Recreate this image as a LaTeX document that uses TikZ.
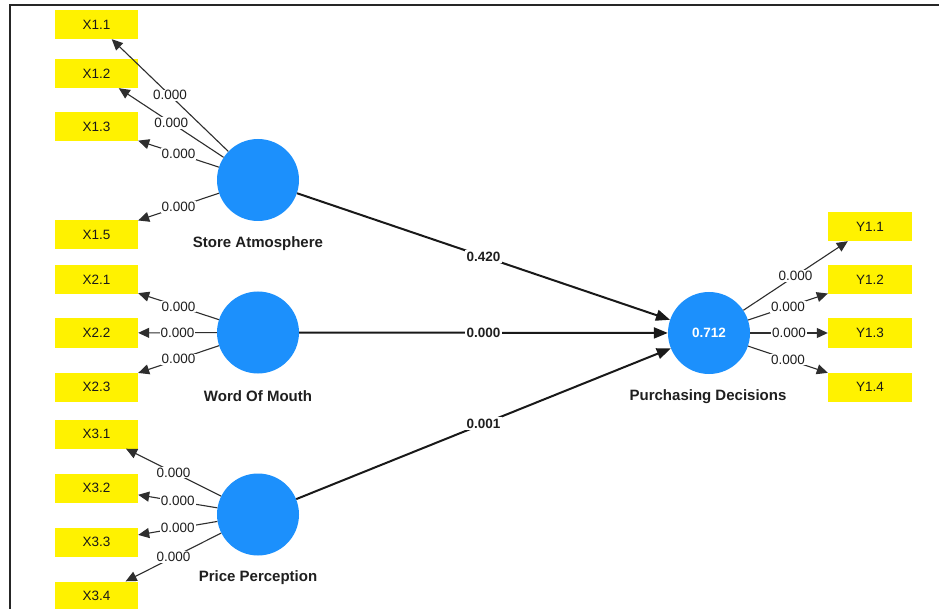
\documentclass[tikz,border=0pt]{standalone}
\usepackage{fontspec}
\setmainfont{Liberation Sans}
\usetikzlibrary{arrows.meta}
\definecolor{lvblue}{RGB}{28,144,252}
\begin{document}
\begin{tikzpicture}[x=1pt,y=-1pt,
  ind/.style={fill=yellow, minimum width=83pt, minimum height=29pt, inner sep=0pt, text=black!90, font=\fontsize{13.5}{15}\selectfont},
  lv/.style={circle, fill=lvblue, minimum size=82pt, inner sep=0pt, text=white, font=\fontsize{13.5}{15}\selectfont\bfseries},
  lvname/.style={text=black!88, font=\fontsize{15}{17}\selectfont\bfseries},
  meas/.style={draw=black!82, line width=1.1pt, -{Triangle[length=11pt,width=10pt]}},
  struct/.style={draw=black!90, line width=2pt, -{Triangle[length=14pt,width=11pt]}},
  elab/.style={fill=white, inner sep=1pt, text=black!88, font=\fontsize{13.5}{15}\selectfont},
  slab/.style={fill=white, inner sep=1.5pt, text=black!88, font=\fontsize{13.5}{15}\selectfont\bfseries}
]
\useasboundingbox (0,0) rectangle (939,609);
\fill[white] (0,0) rectangle (939,609);
\draw[line width=2pt, black!85] (939,5) -- (9.5,5) -- (9.5,609);

% indicators
\node[ind] (x11) at (96.5,24.5) {X1.1};
\node[ind] (x12) at (96.5,73.5) {X1.2};
\node[ind] (x13) at (96.5,127) {X1.3};
\node[ind] (x15) at (96.5,234.5) {X1.5};
\node[ind] (x21) at (96.5,279.5) {X2.1};
\node[ind] (x22) at (96.5,333) {X2.2};
\node[ind] (x23) at (96.5,387) {X2.3};
\node[ind] (x31) at (96.5,434) {X3.1};
\node[ind] (x32) at (96.5,488) {X3.2};
\node[ind] (x33) at (96.5,542) {X3.3};
\node[ind] (x34) at (96.5,596) {X3.4};
\node[ind, minimum width=84pt] (y11) at (870,226.5) {Y1.1};
\node[ind, minimum width=84pt] (y12) at (870,279.5) {Y1.2};
\node[ind, minimum width=84pt] (y13) at (870,333) {Y1.3};
\node[ind, minimum width=84pt] (y14) at (870,387) {Y1.4};

% latent variables
\node[lv] (sa) at (258,180) {};
\node[lv] (wom) at (258,332.5) {};
\node[lv] (pp) at (258,514.5) {};
\node[lv] (pd) at (709,333) {0.712};

\node[lvname] (saname) at (258,244) {Store Atmosphere};
\node[lvname] (womname) at (258,396.5) {Word Of Mouth};
\node[lvname] (ppname) at (258,577.5) {Price Perception};
\node[lvname] (pdname) at (708,396.5) {Purchasing Decisions};

% outer loadings
\draw[meas] (sa) -- node[elab]{0.000} (x11);
\draw[meas] (sa) -- node[elab]{0.000} (x12);
\draw[meas] (sa) -- node[elab]{0.000} (x13);
\draw[meas] (sa) -- node[elab]{0.000} (x15);
\draw[meas] (wom) -- node[elab]{0.000} (x21);
\draw[meas] (wom) -- node[elab]{0.000} (x22);
\draw[meas] (wom) -- node[elab]{0.000} (x23);
\draw[meas] (pp) -- node[elab]{0.000} (x31);
\draw[meas] (pp) -- node[elab]{0.000} (x32);
\draw[meas] (pp) -- node[elab]{0.000} (x33);
\draw[meas] (pp) -- node[elab]{0.000} (x34);
\draw[meas] (pd) -- node[elab]{0.000} (y11);
\draw[meas] (pd) -- node[elab]{0.000} (y12);
\draw[meas] (pd) -- node[elab]{0.000} (y13);
\draw[meas] (pd) -- node[elab]{0.000} (y14);

% inner model
\draw[struct] (sa) -- node[slab]{0.420} (pd);
\draw[struct] (wom) -- node[slab]{0.000} (pd);
\draw[struct] (pp) -- node[slab]{0.001} (pd);
\end{tikzpicture}
\end{document}
